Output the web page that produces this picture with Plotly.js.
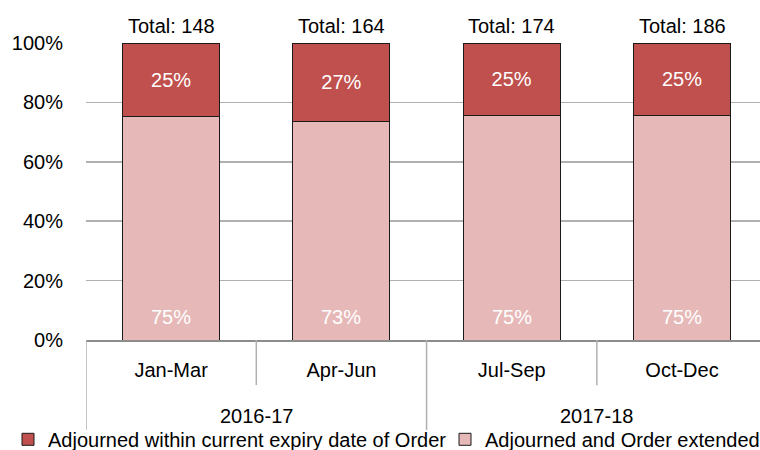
<!DOCTYPE html>
<html>
<head>
<meta charset="utf-8">
<script src="https://cdn.plot.ly/plotly-3.0.1.min.js"></script>
<style>html,body{margin:0;padding:0;background:#fff;}#chart{width:760px;height:450px;}</style>
</head>
<body>
<div id="chart"></div>
<script>
const quarters = ["Jan-Mar", "Apr-Jun", "Jul-Sep", "Oct-Dec"];
const years = ["2016-17", "2017-18"];
const totals = [148, 164, 174, 186];
const extendedPct = [75.2, 73.5, 75.6, 75.6];
const withinPct = [24.8, 26.5, 24.4, 24.4];
const extendedLabels = ["75%", "73%", "75%", "75%"];
const withinLabels = ["25%", "27%", "25%", "25%"];

const FONT = "Arial, 'Liberation Sans', sans-serif";
const xs = quarters.map((q, i) => i);

const traces = [
  {
    type: "bar", name: "Adjourned and Order extended", legend: "legend2",
    x: xs, y: extendedPct, width: 0.57,
    marker: {color: "#e6b9b8", line: {color: "#1a1a1a", width: 1}},
    hoverinfo: "skip"
  },
  {
    type: "bar", name: "Adjourned within current expiry date of Order", legend: "legend",
    x: xs, y: withinPct, width: 0.57,
    text: withinLabels, textposition: "inside", insidetextanchor: "middle",
    textfont: {family: FONT, size: 20, color: "#ffffff"},
    marker: {color: "#c0504d", line: {color: "#1a1a1a", width: 1}},
    hoverinfo: "skip"
  }
];

const annotations = [];
xs.forEach((x, i) => {
  annotations.push({x: x, y: 100, xref: "x", yref: "y", text: "Total: " + totals[i],
    showarrow: false, yanchor: "bottom", yshift: 4, font: {family: FONT, size: 20, color: "#000"}});
  annotations.push({x: x, y: 0, xref: "x", yref: "y", text: extendedLabels[i],
    showarrow: false, yanchor: "bottom", yshift: 10, font: {family: FONT, size: 20, color: "#ffffff"}});
});
years.forEach((yr, j) => {
  annotations.push({x: 0.5 + 2 * j, y: -0.255, xref: "x", yref: "paper", text: yr,
    showarrow: false, yanchor: "middle", font: {family: FONT, size: 20, color: "#000"}});
});

const divColor = "#b0b0b0";
const shapes = [];
[-0.5, 1.5, 3.5].forEach(x => shapes.push({type: "line", xref: "x", yref: "paper", x0: x, x1: x, y0: 0, y1: -0.303, line: {color: divColor, width: 1.5}}));
[0.5, 2.5].forEach(x => shapes.push({type: "line", xref: "x", yref: "paper", x0: x, x1: x, y0: 0, y1: -0.152, line: {color: divColor, width: 1.5}}));

const legendBase = {orientation: "h", xref: "container", yref: "paper", xanchor: "left",
  y: -0.4, yanchor: "bottom", font: {family: FONT, size: 20, color: "#000"},
  itemwidth: 30, bgcolor: "rgba(0,0,0,0)"};

const layout = {
  width: 760, height: 450,
  margin: {l: 86, r: 0, t: 43, b: 110, autoexpand: false},
  paper_bgcolor: "#fff", plot_bgcolor: "#fff",
  barmode: "stack",
  font: {family: FONT, size: 20, color: "#000"},
  showlegend: true,
  legend: Object.assign({}, legendBase, {x: 8 / 760}),
  legend2: Object.assign({}, legendBase, {x: 445 / 760}),
  xaxis: {range: [-0.5, 3.458], tickvals: xs, ticktext: quarters, showgrid: false,
    zeroline: false, showline: true, linecolor: "#8c8c8c", linewidth: 2, ticks: "",
    ticklabelstandoff: 11, tickfont: {family: FONT, size: 20, color: "#000"}, fixedrange: true},
  yaxis: {range: [0, 100], dtick: 20, tick0: 0, ticksuffix: "%", showgrid: true,
    gridcolor: "#b0b0b0", gridwidth: 1.5, zeroline: false, showline: false, ticks: "",
    ticklabelstandoff: 22, tickfont: {family: FONT, size: 20, color: "#000"}, fixedrange: true},
  annotations: annotations,
  shapes: shapes
};

Plotly.newPlot("chart", traces, layout, {displayModeBar: false, staticPlot: true});
</script>
</body>
</html>
